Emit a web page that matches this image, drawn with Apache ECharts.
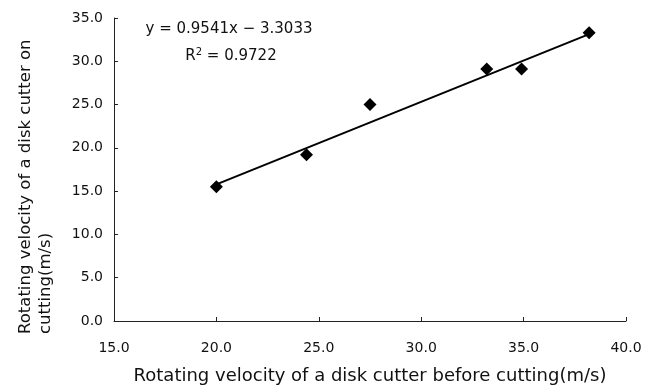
<!DOCTYPE html>
<html>
<head>
<meta charset="utf-8">
<script src="https://cdn.jsdelivr.net/npm/echarts@6/dist/echarts.min.js"></script>
<style>
  html, body { margin: 0; padding: 0; background: #fff; }
  #chart { width: 653px; height: 386px; }
</style>
</head>
<body>
<div id="chart"></div>
<script>
// measured points (before cutting, on cutting)
var beforeCutting = [20.0, 24.4, 27.5, 33.2, 34.9, 38.2];
var onCutting = [15.5, 19.2, 25.0, 29.1, 29.1, 33.3];
// linear trend line end points
var trendX = [20.0, 38.2];
var trendY = [15.78, 33.14];

var font = '"DejaVu Sans", Verdana, sans-serif';

var chart = echarts.init(document.getElementById('chart'));

var scatterData = beforeCutting.map(function (x, i) { return [x, onCutting[i]]; });
var trendData = trendX.map(function (x, i) { return [x, trendY[i]]; });

var option = {
    animation: false,
    backgroundColor: '#fff',
    grid: { left: 114, right: 27, top: 18, bottom: 65, outerBoundsMode: 'none', containLabel: false },
    xAxis: {
        type: 'value',
        min: 15, max: 40, interval: 5,
        name: 'Rotating velocity of a disk cutter before cutting(m/s)',
        nameLocation: 'middle',
        nameGap: 46,
        nameTextStyle: { fontFamily: font, fontSize: 18, color: '#111' },
        axisLine: { show: true, onZero: false, lineStyle: { color: '#222', width: 1 } },
        axisTick: { show: true, inside: true, length: 4, lineStyle: { color: '#222' } },
        axisLabel: {
            margin: 20, fontFamily: font, fontSize: 14, color: '#111',
            formatter: function (v) { return v.toFixed(1); }
        },
        splitLine: { show: false }
    },
    yAxis: {
        type: 'value',
        min: 0, max: 35, interval: 5,
        axisLine: { show: true, lineStyle: { color: '#222', width: 1 } },
        axisTick: { show: true, inside: true, length: 4, lineStyle: { color: '#222' } },
        axisLabel: {
            margin: 11, fontFamily: font, fontSize: 14, color: '#111',
            formatter: function (v) { return v.toFixed(1); }
        },
        splitLine: { show: false }
    },
    graphic: [
        {
            type: 'text',
            x: 36, y: 334,
            rotation: Math.PI / 2,
            style: {
                text: 'Rotating velocity of a disk cutter on\ncutting(m/s)',
                fontFamily: font, fontSize: 16.5, fill: '#111',
                align: 'left', verticalAlign: 'middle', lineHeight: 20
            }
        },
        {
            type: 'text',
            x: 229, y: 29,
            style: {
                text: 'y = 0.9541x \u2212 3.3033',
                fontFamily: font, fontSize: 15, fill: '#111',
                align: 'center', verticalAlign: 'middle'
            }
        },
        {
            type: 'text',
            x: 231, y: 56,
            style: {
                text: '{b|R}{sup|2}{b| = 0.9722}',
                align: 'center', verticalAlign: 'middle',
                rich: {
                    b: { fontFamily: font, fontSize: 15, fill: '#111', color: '#111' },
                    sup: { fontFamily: font, fontSize: 10, color: '#111', fill: '#111', verticalAlign: 'top', padding: [0, 0, 8, 0] }
                }
            }
        }
    ],
    series: [
        {
            type: 'line',
            data: trendData,
            symbol: 'none',
            lineStyle: { color: '#000', width: 2 },
            z: 2
        },
        {
            type: 'scatter',
            data: scatterData,
            symbol: 'diamond',
            symbolSize: 13,
            itemStyle: { color: '#000', opacity: 1 },
            z: 3
        }
    ]
};

chart.setOption(option);
window.addEventListener('resize', chart.resize);
</script>
</body>
</html>
